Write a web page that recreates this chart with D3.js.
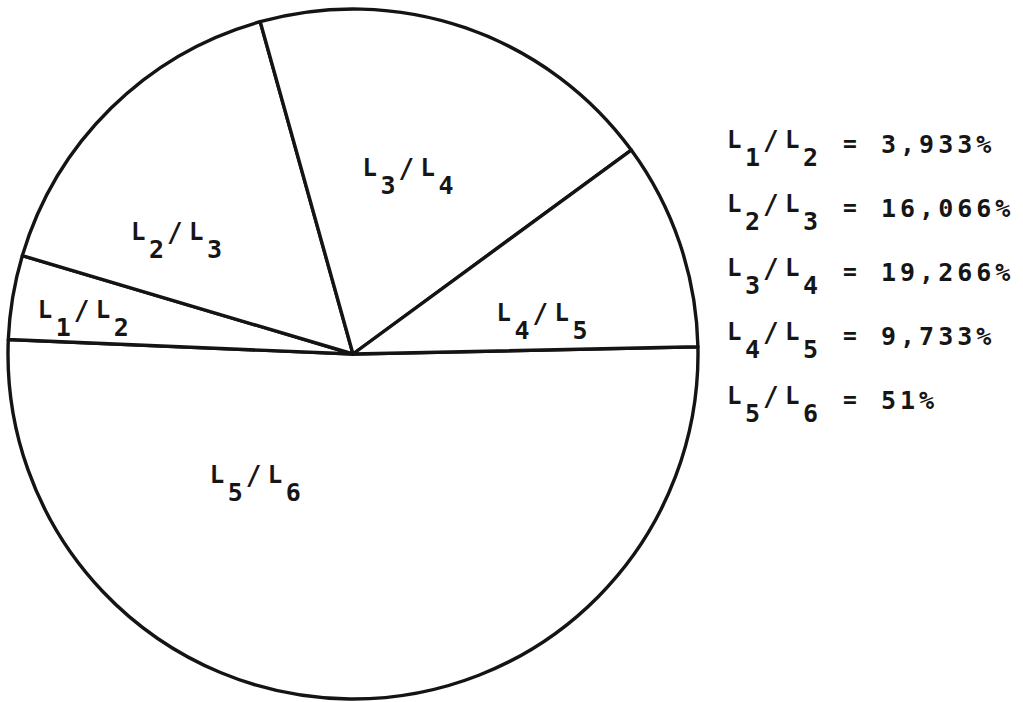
<!DOCTYPE html>
<html>
<head>
<meta charset="utf-8">
<script src="https://cdn.jsdelivr.net/npm/d3@7"></script>
<style>
  html, body { margin: 0; padding: 0; background: #fff; }
  svg { display: block; }
  text { font-family: "DejaVu Sans Mono", "Liberation Mono", monospace; fill: #161616; font-weight: bold; }
</style>
</head>
<body>
<svg id="chart" width="1023" height="702"></svg>
<script>
// ---- data ----
const categories = ["L1/L2", "L2/L3", "L3/L4", "L4/L5", "L5/L6"];
const values = [3.933, 16.066, 19.266, 9.733, 51];
const valueLabels = ["3,933%", "16,066%", "19,266%", "9,733%", "51%"];
// clockwise drawing order starting at the right-hand horizontal radius
const drawOrder = [4, 0, 1, 2, 3];

// ---- layout ----
const W = 1023, H = 702;
const cx = 353, cy = 354, R = 345;
const startDeg = 88.8;
// label placement inside each slice: fraction along slice angle, fraction of radius
const labelT = [0.37, 0.28, 0.47, 0.75, 0.70];
const labelR = [0.79, 0.61, 0.54, 0.555, 0.47];

const svg = d3.select("#chart");
const g = svg.append("g").attr("transform", `translate(${cx},${cy})`);

const pie = d3.pie()
  .sort(null)
  .value(i => values[i])
  .startAngle(startDeg * Math.PI / 180)
  .endAngle(startDeg * Math.PI / 180 + 2 * Math.PI);

const arcs = pie(drawOrder);
const arc = d3.arc().innerRadius(0).outerRadius(R);

g.selectAll("path.slice")
  .data(arcs)
  .join("path")
  .attr("class", "slice")
  .attr("d", arc)
  .attr("fill", "#fff")
  .attr("stroke", "#141414")
  .attr("stroke-width", 3.4)
  .attr("stroke-linejoin", "round");

// label drawer: L with subscript / L with subscript
function drawLabel(parent, x, y, cat) {
  const parts = cat.split("/");
  const lg = parent.append("g").attr("transform", `translate(${x},${y})`);
  const pieces = [
    { t: parts[0][0], dx: 0, dy: 0, fs: 24 },
    { t: parts[0].slice(1), dx: 18, dy: 18, fs: 25 },
    { t: "/", dx: 36, dy: 2, fs: 26 },
    { t: parts[1][0], dx: 58, dy: 0, fs: 24 },
    { t: parts[1].slice(1), dx: 76, dy: 18, fs: 25 }
  ];
  lg.selectAll("text").data(pieces).join("text")
    .attr("x", d => d.dx)
    .attr("y", d => d.dy)
    .attr("font-size", d => d.fs)
    .text(d => d.t);
  return lg;
}

// slice labels
arcs.forEach(a => {
  const i = a.data;
  const ang = a.startAngle + labelT[i] * (a.endAngle - a.startAngle);
  const r = labelR[i] * R;
  const x = cx + r * Math.sin(ang);
  const y = cy - r * Math.cos(ang);
  drawLabel(svg, x - 45, y, categories[i]);
});

// legend
const legX = 727, legY0 = 148, legStep = 64;
categories.forEach((cat, i) => {
  const y = legY0 + i * legStep;
  drawLabel(svg, legX, y, cat);
  svg.append("text")
    .attr("x", 850).attr("y", y + 3)
    .attr("text-anchor", "middle")
    .attr("font-size", 23)
    .text("=");
  svg.append("text")
    .attr("x", 881).attr("y", y + 5)
    .attr("font-size", 25)
    .attr("letter-spacing", 4)
    .text(valueLabels[i]);
});
</script>
</body>
</html>
